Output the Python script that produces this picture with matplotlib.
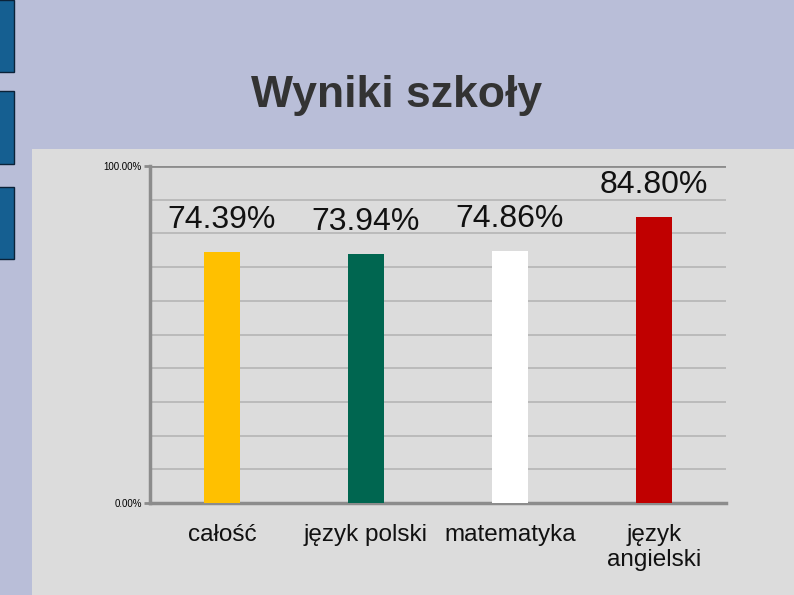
import matplotlib.pyplot as plt
from matplotlib.patches import Rectangle
from matplotlib.ticker import FuncFormatter

plt.rcParams['font.family'] = ['Liberation Sans', 'DejaVu Sans']

# data
categories = ['całość', 'język polski', 'matematyka', 'język\nangielski']
scores = [74.39, 73.94, 74.86, 84.80]
bar_colors = ['#FFC000', '#006650', '#FFFFFF', '#C00000']

fig = plt.figure(figsize=(7.94, 5.95), dpi=100)
fig.patch.set_facecolor('#B9BED8')

# gray slide panel and blue decorations on the left
fig.patches.append(Rectangle((32 / 794, 0), 1 - 32 / 794, 1 - 149 / 595,
                             transform=fig.transFigure, facecolor='#DCDCDC',
                             edgecolor='none', zorder=-2))
for top, bottom in [(0, 72), (91, 164), (187, 259)]:
    fig.patches.append(Rectangle((-0.01, 1 - bottom / 595), 14 / 794 + 0.01,
                                 (bottom - top) / 595, transform=fig.transFigure,
                                 facecolor='#155F91', edgecolor='#0B2238',
                                 linewidth=1, zorder=-1))

fig.text(397 / 794, 1 - 96 / 595, 'Wyniki szkoły', ha='center', va='center',
         fontsize=32, fontweight='bold', color='#333333')

ax = fig.add_axes([150 / 794, 1 - 503 / 595, 576 / 794, 337 / 595])
ax.set_facecolor('#DCDCDC')

x = range(len(categories))
ax.bar(x, scores, width=0.245, color=bar_colors, zorder=3)

for i, v in enumerate(scores):
    ax.annotate(f'{v:.2f}%', (i, v), xytext=(0, 23), textcoords='offset points',
                ha='center', va='center', fontsize=23, color='#111111', zorder=4)

ax.set_xlim(-0.5, len(categories) - 0.5)
ax.set_ylim(0, 100)
ax.set_yticks([0, 100])
ax.set_yticks(range(10, 100, 10), minor=True)
ax.yaxis.set_major_formatter(FuncFormatter(lambda v, _: f'{v:.2f}%'))
ax.tick_params(axis='y', which='major', labelsize=7, length=4, width=2,
               color='#8C8C8C', pad=2)
ax.tick_params(axis='y', which='minor', length=0)
ax.grid(axis='y', which='minor', color='#B8B8B8', linewidth=1.3, zorder=1)
ax.axhline(100, color='#8C8C8C', linewidth=2, zorder=2)

ax.set_xticks(list(x))
ax.set_xticklabels(categories, fontsize=17.5, color='#111111', linespacing=1.2)
ax.tick_params(axis='x', length=0, pad=15)

for side in ['top', 'right']:
    ax.spines[side].set_visible(False)
for side in ['left', 'bottom']:
    ax.spines[side].set_color('#8C8C8C')
    ax.spines[side].set_linewidth(2.5)

fig.savefig('out.png', dpi=100, facecolor=fig.get_facecolor())
